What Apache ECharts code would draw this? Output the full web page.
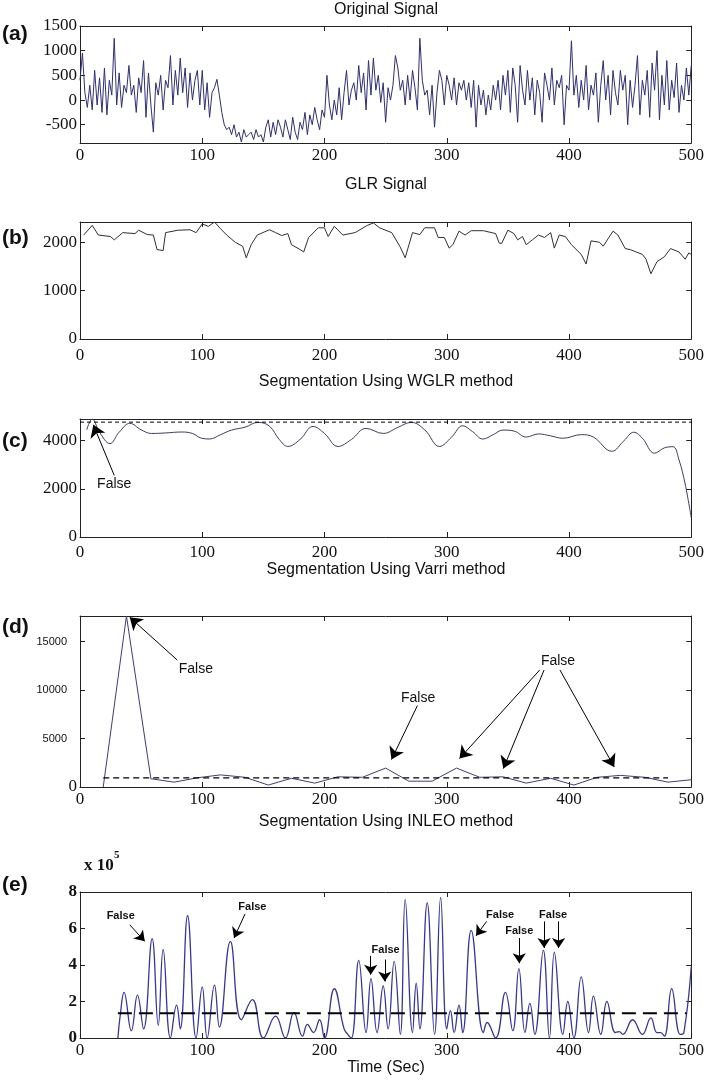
<!DOCTYPE html>
<html>
<head>
<meta charset="utf-8">
<script src="https://cdn.jsdelivr.net/npm/echarts@6/dist/echarts.min.js"></script>
<style>
  html, body { margin: 0; background: #fff; }
  #chart { width: 707px; height: 1089px; }
</style>
</head>
<body>
<div id="chart"></div>
<script>
// (a) original signal, one value every 2 samples
var origStep = 2;
var origSignal = [
  400, 950, 150, -150, 300, -200, 600, -100, 450, -250,
  650, -300, 400, 100, 1250, -100, 550, -150, 300, 150,
  700, 100, 300, -250, 450, 150, 800, -350, 550, -100,
  -650, 350, 100, 500, -200, 400, 250, 900, -100, 600,
  100, 850, 150, 650, -150, 550, 0, 400, 600, -100,
  600, -200, 350, -350, 150, 250, 420, 100, -250, -500,
  -600, -550, -700, -500, -750, -650, -850, -600, -750, -700,
  -650, -800, -600, -750, -700, -850, -550, -400, -750, -450,
  -700, -400, -550, -750, -400, -600, -800, -350, -650, -800,
  -450, -600, -250, -700, -300, -500, -150, -400, -600, -200,
  -350, 500, -100, -400, 0, -300, 250, -400, 150, 600,
  -100, 200, 350, 0, 700, 150, 550, -200, 800, 100,
  850, 200, 500, -50, 350, -450, 250, 0, 300, 900,
  650, 200, 400, -100, 500, 0, 600, 250, -200, 1250,
  400, 100, 200, -300, 300, -550, 150, 600, 400, -100,
  500, 300, 0, 450, -100, 350, 200, 400, 0, 350,
  -150, 400, -550, 300, -100, 200, -300, 100, -200, 300,
  0, 400, -200, 500, 100, 600, -250, 650, 300, -450,
  700, 200, -100, 600, 0, 450, -300, 400, 150, -450,
  550, 300, 0, 650, -100, 400, 250, 500, -500, 300,
  200, 1200, 100, 500, -150, 400, 0, 700, -200, 300,
  100, 550, -450, 300, 800, 0, 500, -300, 600, 150,
  -100, 600, 200, 500, -500, 400, -150, 300, 900, -300,
  400, 100, 600, -350, 750, 200, 1000, -400, 500, -100,
  800, -200, 400, 50, 750, -250, 300, 0, 650, 100,
  700
];

// (b) GLR signal
var glrX = [3,10,15,25,28,35,45,48,55,60,63,68,70,80,90,95,100,105,110,115,120,127,133,136,140,145,155,160,165,170,173,180,183,187,195,200,203,208,215,225,235,240,245,255,262,266,272,278,282,290,293,298,302,305,310,315,320,330,340,343,345,350,355,358,362,365,370,375,380,385,388,392,397,402,410,414,418,425,428,436,440,446,450,455,460,463,467,472,478,483,490,495,498,500];
var glrY = [2150,2350,2150,2120,2050,2200,2180,2250,2160,2150,1850,1830,2200,2250,2260,2200,2380,2330,2420,2280,2150,2000,1920,1680,1950,2150,2260,2200,2140,2180,1950,1850,1800,2100,2300,2300,2120,2330,2150,2200,2350,2400,2300,2200,1900,1680,2200,2160,2300,2300,2100,2100,1880,1950,2230,2150,2240,2240,2180,1980,1980,2250,2180,2050,2120,1950,2050,2150,2100,2200,1880,2150,2120,1950,1750,1550,2030,2000,1920,2230,2150,1870,1850,1800,1750,1650,1350,1600,1700,1870,1800,1650,1780,1750];

// (c) WGLR segmentation
var wglrX = [5.5,10,16,24.5,32,40.8,50,58.5,70,83,92,99.4,106,115,124,135,145.7,155,163,170,180,190.6,200,211,222,234,248,260,271,282,294,304,313,321,329.5,338,346,355,365,375,385,395,410,420,435,445,453,460,470,478,485,490,495,500];
var wglrY = [4450,4900,4350,3880,4350,4720,4450,4300,4320,4360,4300,4100,4070,4250,4440,4560,4760,4600,4050,3760,4050,4590,4300,3760,4050,4510,4300,4550,4760,4450,3760,4150,4620,4380,4070,4250,4440,4400,4150,4280,4200,4100,4250,4150,3560,4000,4350,4100,3480,3700,3750,3200,2200,800];
var wglrThr = [0, 500, 4770];

// (d) Varri segmentation
var varriX = [19,38,58,77,96,115,135,154,173,192,211,231,250,269,288,308,327,346,365,385,404,423,442,462,481,500];
var varriY = [0,17650,850,500,950,1250,1000,200,900,400,1050,1000,1950,600,600,1950,1000,1050,400,900,200,1000,1200,1000,500,750];
var varriThr = [19, 481, 950];

// (e) INLEO segmentation, x 10^5
var inleoX = [31,33,36,42,47,52,59,64,68,74,79,82,88,95,100,104,110,114,123,132,141,150,160,168,175,182,186,191,196,200,208,216,219,222,228,234,238,243,248,252,257,262,266,272,275,278,284,290,295,300,303,306,310,313,320,330,333,340,348,354,359,364,368,372,379,384,388,395,399,404,410,416,420,426,431,438,441,444,452,460,467,472,475,478,484,491,494,500];
var inleoY = [0,1.3,2.5,0.4,2.35,0.5,5.45,0.7,4.85,0,1.8,0.5,6.7,0,2.8,0,2.9,0.6,5.3,1.0,2.1,0,1.2,0,1.4,0.1,0.75,0.3,1.0,0,2.7,0.5,0.2,0,4.25,0.3,3.25,0.3,2.85,0.5,4.2,0.2,7.6,0.3,3.0,0.5,7.4,0.2,7.7,0.5,1.5,0.3,1.8,0.3,5.9,0.3,0.85,0,2.5,0.4,3.8,0.3,1.9,0.2,4.8,0,4.7,0.2,2.0,0,3.35,0.3,2.3,0.2,2.0,0.3,0.35,0.2,1.0,0.2,1.1,0.3,0.3,0.1,2.7,0.2,0.3,3.9];
var inleoThr = [31, 496, 1.35];

// tick labels
var yTicksA = [-500, 0, 500, 1000, 1500];
var yTicksB = [0, 1000, 2000];
var yTicksC = [0, 2000, 4000];
var yTicksD = [0, 5000, 10000, 15000];
var yTicksE = [0, 2, 4, 6, 8];

// "False" notes: text centre and arrows (tail -> tip), data units
var notesC = [[28, 2209]];
var arrowsC = [[[28, 2560], [10.9, 4660]]];
var notesD = [[94.8, 12180], [276.6, 9185], [391, 13000]];
var arrowsD = [
  [[79.6, 13100], [40.7, 17517]],
  [[276, 8400], [254.8, 2830]],
  [[376, 12070], [310.4, 2930]],
  [[379.6, 12070], [346.3, 1900]],
  [[392.6, 12070], [437, 2070]]
];
var notesE = [[33.3, 6.67], [141, 7.16], [250, 4.84], [343.7, 6.76], [359.3, 5.84], [387, 6.72]];
var arrowsE = [
  [[40.7, 6.2], [53, 5.3]],
  [[135, 6.8], [126, 5.48]],
  [[237.8, 4.5], [237.8, 3.47]],
  [[249.3, 4.3], [249.3, 3.1]],
  [[332.6, 6.39], [324, 5.6]],
  [[359.3, 5.48], [359.3, 4.1]],
  [[379.6, 6.39], [379.6, 4.93]],
  [[391.5, 6.39], [391.5, 4.93]]
];

var serif = 'Liberation Serif, Times New Roman, serif';
var sans = 'Liberation Sans, Arial, sans-serif';
var boxColor = '#222';

function zip(xs, ys) { return xs.map(function (x, i) { return [x, ys[i]]; }); }

var chart = echarts.init(document.getElementById('chart'));

var panels = [
  { top: 26, height: 117, min: -870, max: 1500, ticks: yTicksA, xMargin: 4 },
  { top: 222, height: 117, min: 0, max: 2420, ticks: yTicksB, xMargin: 8 },
  { top: 419, height: 118, min: 0, max: 4900, ticks: yTicksC, xMargin: 7 },
  { top: 616, height: 171, min: 0, max: 17650, ticks: yTicksD, xMargin: 4, small: true },
  { top: 892, height: 146, min: 0, max: 8, ticks: yTicksE, xMargin: 4, bold: true }
];

var grids = [], xAxes = [], yAxes = [];
panels.forEach(function (p, i) {
  grids.push({ left: 80, width: 612, top: p.top, height: p.height });
  var line = { show: true, onZero: false, lineStyle: { color: boxColor, width: 1 } };
  var tick = { show: true, inside: true, length: 5, lineStyle: { color: boxColor } };
  xAxes.push({
    gridIndex: i, type: 'value', min: 0, max: 500, interval: 100,
    axisLine: line, axisTick: tick, splitLine: { show: false },
    axisLabel: { fontFamily: serif, fontSize: 17, color: '#111', margin: p.xMargin,
      formatter: function (v) { return String(v); } }
  });
  xAxes.push({
    gridIndex: i, type: 'value', position: 'top', min: 0, max: 500, interval: 100,
    axisLine: line, axisTick: tick, splitLine: { show: false }, axisLabel: { show: false }
  });
  var yLabel = {
    customValues: p.ticks, fontFamily: serif, fontSize: 17, color: '#111', margin: 3,
    fontWeight: p.bold ? 'bold' : 'normal',
    formatter: function (v) { return String(v); }
  };
  if (p.small) {
    yLabel.formatter = function (v) { return v === 0 ? '{s|0}' : '{n|' + v + '}'; };
    yLabel.rich = {
      s: { fontFamily: serif, fontSize: 17, color: '#111' },
      n: { fontFamily: sans, fontSize: 11, color: '#111', padding: [0, 10, 0, 0] }
    };
  }
  yAxes.push({
    gridIndex: i, type: 'value', min: p.min, max: p.max,
    axisLine: line, splitLine: { show: false },
    axisTick: Object.assign({ customValues: p.ticks }, tick),
    axisLabel: yLabel
  });
  yAxes.push({
    gridIndex: i, type: 'value', position: 'right', min: p.min, max: p.max,
    axisLine: line, splitLine: { show: false },
    axisTick: Object.assign({ customValues: p.ticks }, tick),
    axisLabel: { show: false }
  });
});

function arrowMarks(list, size) {
  return {
    silent: true, animation: false,
    symbol: ['none', 'arrow'], symbolSize: size,
    lineStyle: { color: '#000', width: 1, type: 'solid' },
    itemStyle: { color: '#000' },
    label: { show: false }, emphasis: { disabled: true },
    data: list.map(function (a) { return [{ coord: a[0] }, { coord: a[1] }]; })
  };
}

function lineSeries(g, data, color, width, smooth) {
  return {
    type: 'line', xAxisIndex: 2 * g, yAxisIndex: 2 * g, data: data,
    showSymbol: false, symbol: 'none', smooth: smooth || false, silent: true,
    lineStyle: { color: color, width: width }
  };
}

function thrSeries(g, thr, dash, width, arrows, size) {
  var s = lineSeries(g, [[thr[0], thr[2]], [thr[1], thr[2]]], '#000', width);
  s.lineStyle.type = dash;
  s.markLine = arrowMarks(arrows, size);
  return s;
}

var titles = [
  ['Original Signal', 10], ['GLR Signal', 185],
  ['Segmentation Using WGLR method', 382], ['Segmentation Using Varri method', 570],
  ['Segmentation Using INLEO method', 822], ['Time (Sec)', 1068]
];
var letters = [['(a)', 34], ['(b)', 238], ['(c)', 441], ['(d)', 627], ['(e)', 885]];

var graphics = [];
titles.forEach(function (t) {
  graphics.push({ type: 'text', x: 386, y: t[1], style: {
    text: t[0], fontFamily: sans, fontSize: 16, fill: '#111', align: 'center', verticalAlign: 'middle' } });
});
letters.forEach(function (t) {
  graphics.push({ type: 'text', x: 2, y: t[1], style: {
    text: t[0], fontFamily: sans, fontSize: 21, fontWeight: 'bold', fill: '#111', align: 'left', verticalAlign: 'middle' } });
});
graphics.push({ type: 'text', x: 84, y: 866, style: {
  text: 'x 10', fontFamily: serif, fontSize: 17, fontWeight: 'bold', fill: '#111', verticalAlign: 'middle' } });
graphics.push({ type: 'text', x: 114, y: 855, style: {
  text: '5', fontFamily: serif, fontSize: 11, fontWeight: 'bold', fill: '#111', verticalAlign: 'middle' } });

var option = {
  animation: false,
  backgroundColor: '#fff',
  grid: grids,
  xAxis: xAxes,
  yAxis: yAxes,
  graphic: graphics,
  series: [
    lineSeries(0, origSignal.map(function (v, i) { return [i * origStep, v]; }), '#2e2e78', 1),
    lineSeries(1, zip(glrX, glrY), '#303030', 1),
    lineSeries(2, zip(wglrX, wglrY), '#3c3c66', 1, 0.4),
    thrSeries(2, wglrThr, [4, 3], 1, arrowsC, 12),
    lineSeries(3, zip(varriX, varriY), '#3c3c80', 1),
    thrSeries(3, varriThr, [6, 4], 1.2, arrowsD, 12),
    lineSeries(4, zip(inleoX, inleoY), '#3535a5', 1.3, 0.45),
    thrSeries(4, inleoThr, [14, 7], 2, arrowsE, 10)
  ]
};
chart.setOption(option);

// place the "False" notes through each panel's own scales
function noteTexts(seriesIndex, notes, size, weight) {
  return notes.map(function (n) {
    var px = chart.convertToPixel({ seriesIndex: seriesIndex }, n);
    return { type: 'text', x: px[0], y: px[1], style: {
      text: 'False', fontFamily: sans, fontSize: size, fontWeight: weight, fill: '#111',
      align: 'center', verticalAlign: 'middle' } };
  });
}
chart.setOption({
  graphic: graphics
    .concat(noteTexts(2, notesC, 14, 'normal'))
    .concat(noteTexts(4, notesD, 14, 'normal'))
    .concat(noteTexts(6, notesE, 11, 'bold'))
});
</script>
</body>
</html>
